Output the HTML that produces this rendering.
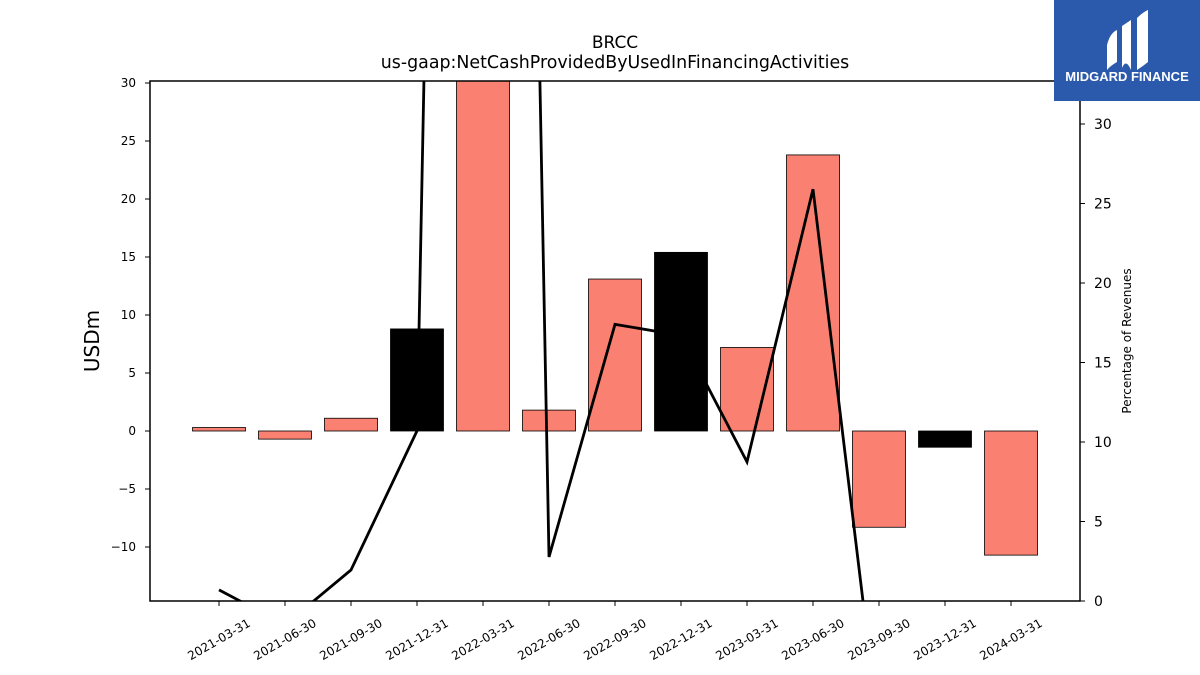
<!DOCTYPE html>
<html><head><meta charset="utf-8"><style>
html,body{margin:0;padding:0;background:#fff;width:1200px;height:675px;overflow:hidden;font-family:"Liberation Sans","DejaVu Sans",sans-serif}
svg{display:block}
</style></head><body>
<svg id="chart" width="1200" height="675" xmlns="http://www.w3.org/2000/svg" font-family="DejaVu Sans, Liberation Sans, sans-serif">
<text x="615" y="48" text-anchor="middle" font-size="17">BRCC</text>
<text x="615" y="68" text-anchor="middle" font-size="17.4">us-gaap:NetCashProvidedByUsedInFinancingActivities</text>
<text transform="translate(99,341) rotate(-90)" text-anchor="middle" font-size="20">USDm</text>
<text transform="translate(1131,341) rotate(-90)" text-anchor="middle" font-size="12">Percentage of Revenues</text>
<defs><clipPath id="pc"><rect x="150" y="81" width="930" height="520"/></clipPath></defs>
<g id="bars" clip-path="url(#pc)"></g>
<g id="line" clip-path="url(#pc)"></g>
<rect x="150" y="81" width="930" height="520" fill="none" stroke="#000" stroke-width="1.5"/>
<g id="axes"></g>
<g>
<rect x="1054" y="0" width="146" height="101" fill="#2b5aad"/>
<path d="M1107 45 Q1110 33 1117 30 L1117 62 Q1110 66 1107 70 Z" fill="#fff"/>
<path d="M1122 26 L1131 20 L1131 70 Q1126 58 1122 68 Z" fill="#fff"/>
<path d="M1137 18 Q1143 12 1148 10 L1148 62 Q1143 66 1137 70 Z" fill="#fff"/>
<text x="1127" y="81" text-anchor="middle" font-size="13" font-weight="bold" fill="#fff" font-family="Liberation Sans, sans-serif">MIDGARD FINANCE</text>
</g>
</svg>
<script>
const categories=["2021-03-31","2021-06-30","2021-09-30","2021-12-31","2022-03-31","2022-06-30","2022-09-30","2022-12-31","2023-03-31","2023-06-30","2023-09-30","2023-12-31","2024-03-31"];
const barValues=[0.3,-0.7,1.1,8.8,31.5,1.8,13.1,15.4,7.2,23.8,-8.3,-1.4,-10.7];
const barColors=["salmon","salmon","salmon","black","salmon","salmon","salmon","black","salmon","salmon","salmon","black","salmon"];
const pctValues=[0.7,-1.5,1.95,10.7,220,2.77,17.4,16.7,8.75,25.9,-8.3,null,null];
const leftTicks=[-10,-5,0,5,10,15,20,25,30];
const rightTicks=[0,5,10,15,20,25,30];
const NS="http://www.w3.org/2000/svg";
const X0=219,DX=66,BW=53;
function xs(i){return X0+i*DX;}
function yL(v){return 431-v*11.6;}
function yR(v){return 601-v*15.9;}
function mk(tag,attrs,parent){const e=document.createElementNS(NS,tag);for(const k in attrs)e.setAttribute(k,attrs[k]);document.getElementById(parent).appendChild(e);return e;}
barValues.forEach((v,i)=>{
 const y1=yL(Math.max(v,0)),y2=yL(Math.min(v,0));
 const r=mk("rect",{x:xs(i)-BW/2,y:y1,width:BW,height:y2-y1,fill:barColors[i]==="black"?"#000":"#fa8072",stroke:"#000","stroke-width":0.8},"bars");
 
 
});
let d="";
pctValues.forEach((v,i)=>{if(v===null)return;d+=(d?"L":"M")+xs(i)+" "+yR(v)+" ";});
const ln=mk("path",{d:d,fill:"none",stroke:"#000","stroke-width":2.8},"line");


leftTicks.forEach(t=>{
 const y=yL(t);
 const l=mk("line",{x1:145,x2:150,y1:y,y2:y,stroke:"#000"},"axes");
 
 
 const tx=mk("text",{x:136,y:y+4,"text-anchor":"end","font-size":12},"axes");
 tx.textContent=t<0?"\u2212"+Math.abs(t):String(t);
 
 
});
rightTicks.forEach(t=>{
 const y=yR(t);
 const l=mk("line",{x1:1080,x2:1085,y1:y,y2:y,stroke:"#000"},"axes");
 
 
 const tx=mk("text",{x:1094,y:y+5,"font-size":14},"axes");
 tx.textContent=String(t);
 
 
});
categories.forEach((c,i)=>{
 const x=xs(i);
 const l=mk("line",{x1:x,x2:x,y1:601,y2:606,stroke:"#000"},"axes");
 
 
 const tx=mk("text",{transform:"translate("+(x+2)+",643) rotate(-30)","text-anchor":"middle","font-size":12},"axes");
 tx.textContent=c;
 
 
});
</script>
</body></html>
